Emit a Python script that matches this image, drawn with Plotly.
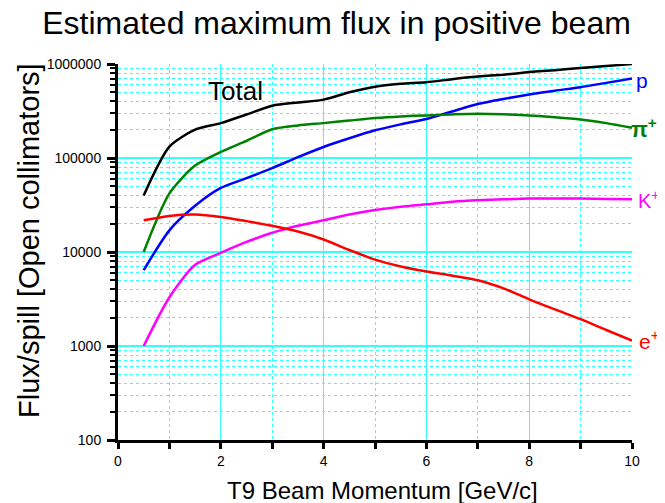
import plotly.graph_objects as go

momentum = [0.5, 1, 1.5, 2, 2.5, 3, 3.5, 4, 4.5, 5, 5.5, 6, 6.5, 7, 7.5, 8, 8.5, 9, 9.5, 10]
total = [40000, 132000, 200000, 235000, 290000, 360000, 390000, 418000, 500000, 574000,
         615000, 640000, 690000, 735000, 770000, 820000, 860000, 905000, 950000, 1000000]
proton = [6400, 17000, 31000, 48000, 61000, 78000, 102000, 131000, 162000, 197000,
          228000, 260000, 312000, 375000, 425000, 474000, 520000, 567000, 630000, 700000]
pion = [10000, 42000, 83000, 116000, 152000, 202000, 222000, 235000, 250000, 266000,
        277000, 284000, 291000, 296000, 292000, 284000, 272000, 257000, 235000, 210000]
kaon = [1000, 3300, 7300, 9800, 12800, 16000, 19000, 21800, 25000, 27900,
        30300, 32200, 34200, 35500, 36300, 37000, 37000, 37000, 36700, 36300]
positron = [21800, 24200, 25000, 23600, 21300, 19000, 16500, 13600, 10500, 8300,
            7000, 6200, 5600, 5000, 4100, 3140, 2450, 1930, 1480, 1140]

y_tickvals = [100, 1000, 10000, 100000, 1000000]
y_ticktext = ["100", "1000", "10000", "100000", "1000000"]
x_tickvals = [0, 2, 4, 6, 8, 10]

series = [
    ("Total", total, "#000000"),
    ("p", proton, "#0000ff"),
    ("π+", pion, "#008000"),
    ("K+", kaon, "#ff00ff"),
    ("e+", positron, "#ff0000"),
]

FONT = "Liberation Sans, Arial, sans-serif"

fig = go.Figure()
for name, vals, col in series:
    fig.add_trace(go.Scatter(x=momentum, y=vals, mode="lines", name=name,
                             line=dict(color=col, width=2.5, shape="spline", smoothing=0.7),
                             showlegend=False))

# "Total" sits inside the plot (data coords)
fig.add_annotation(x=2.29, y=5.71, xref="x", yref="y", text="Total", showarrow=False,
                   xanchor="center", yanchor="middle",
                   font=dict(family=FONT, size=26, color="#000000"))

# right-hand series labels (paper coords, outside the plot area)
labels = [
    (1.005, 0.955, "p", "#0000ff", False, 21),
    (0.997, 0.83, "π<sup>+</sup>", "#008000", True, 22),
    (1.01, 0.64, "K<sup>+</sup>", "#ff00ff", False, 20),
    (1.012, 0.265, "e<sup>+</sup>", "#ff0000", False, 21),
]
for x, y, t, c, b, sz in labels:
    fig.add_annotation(x=x, y=y, xref="paper", yref="paper", text=("<b>%s</b>" % t) if b else t,
                       xanchor="left", yanchor="middle", borderpad=0,
                       showarrow=False, font=dict(family=FONT, size=sz, color=c))

# axis titles as annotations for exact placement
fig.add_annotation(x=-0.172, y=0.531, xref="paper", yref="paper", text="Flux/spill [Open collimators]",
                   textangle=-90, showarrow=False, xanchor="center", yanchor="middle",
                   font=dict(family=FONT, size=29, color="black"))
fig.add_annotation(x=0.515, y=-0.133, xref="paper", yref="paper", text="T9 Beam Momentum [GeV/c]",
                   showarrow=False, xanchor="center", yanchor="middle",
                   font=dict(family=FONT, size=24, color="black"))

grid_col = "#33ffff"
fig.update_layout(
    width=657, height=495,
    margin=dict(l=110, r=33, t=56, b=63, autoexpand=False),
    paper_bgcolor="white", plot_bgcolor="white",
    font=dict(family=FONT, color="black"),
    title=dict(text="Estimated maximum flux in positive beam", x=0.5, xanchor="center",
               y=1 - 15 / 495, yanchor="middle", yref="container",
               font=dict(family=FONT, size=32, color="black")),
)
fig.update_xaxes(
    range=[0, 10], tickvals=x_tickvals, ticks="outside", ticklen=6, tickwidth=3, tickcolor="black",
    showline=True, linewidth=3, linecolor="black", showgrid=True, gridcolor=grid_col, gridwidth=1,
    tickfont=dict(size=14), zeroline=False,
    minor=dict(dtick=1, ticks="outside", ticklen=6, tickwidth=3, tickcolor="black",
               showgrid=True, gridcolor=grid_col, griddash="dot", gridwidth=1),
)
fig.update_yaxes(
    type="log", range=[2, 6], tickvals=y_tickvals, ticktext=y_ticktext,
    ticks="outside", ticklen=8, tickwidth=3, tickcolor="black",
    showline=True, linewidth=3, linecolor="black", showgrid=True, gridcolor=grid_col, gridwidth=1.5,
    tickfont=dict(size=14), zeroline=False, ticklabelstandoff=3,
    minor=dict(dtick="D1", ticks="outside", ticklen=5, tickwidth=2, tickcolor="black",
               showgrid=True, gridcolor=grid_col, griddash="dot", gridwidth=1),
)

fig.write_html("out.html")
